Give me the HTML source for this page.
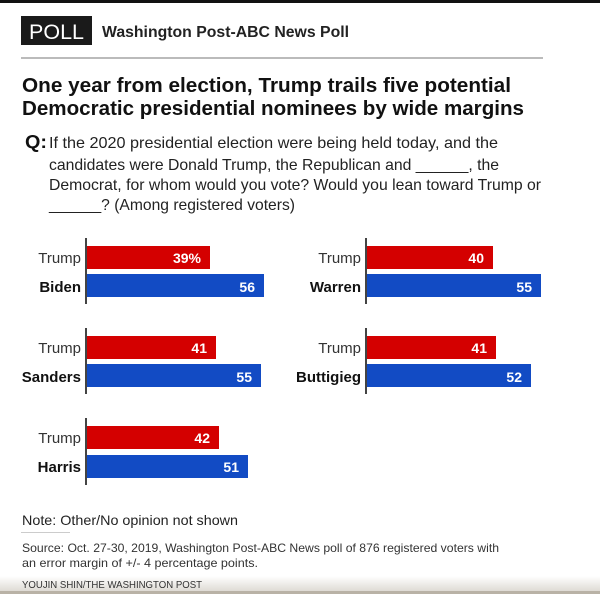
<!DOCTYPE html>
<html><head><meta charset="utf-8"><style>
html,body{margin:0;padding:0;background:#fff;}
svg{display:block;font-family:"Liberation Sans",Arial,sans-serif;}
</style></head><body>
<svg width="600" height="594" viewBox="0 0 600 594" xmlns="http://www.w3.org/2000/svg">
<defs><linearGradient id="bg" x1="0" y1="0" x2="0" y2="1"><stop offset="0" stop-color="#fff"/><stop offset="1" stop-color="#d8d4cc"/></linearGradient></defs>
<rect x="0" y="0" width="600" height="594" fill="#fff"/>
<rect x="0" y="0" width="600" height="3" fill="#111"/>
<rect x="0" y="576" width="600" height="18" fill="url(#bg)"/>
<rect x="0" y="591" width="600" height="3" fill="#b9b2a6"/>
<!-- header -->
<rect x="21" y="16" width="71" height="29" fill="#1a1a1a"/>
<text x="29" y="39" font-size="21" fill="#fff" textLength="55" lengthAdjust="spacingAndGlyphs">POLL</text>
<text x="102" y="37" font-size="16" font-weight="bold" fill="#222" textLength="247" lengthAdjust="spacingAndGlyphs">Washington Post-ABC News Poll</text>
<rect x="21" y="57" width="522" height="2" fill="#bbb"/>
<!-- title -->
<text x="22" y="92" font-size="20" font-weight="bold" fill="#111" textLength="489" lengthAdjust="spacingAndGlyphs">One year from election, Trump trails five potential</text>
<text x="22" y="115" font-size="20" font-weight="bold" fill="#111" textLength="502" lengthAdjust="spacingAndGlyphs">Democratic presidential nominees by wide margins</text>
<!-- question -->
<text x="25" y="148" font-size="18" font-weight="bold" fill="#111" textLength="22" lengthAdjust="spacingAndGlyphs">Q:</text>
<g font-size="16" fill="#222">
<text x="49" y="148" textLength="449" lengthAdjust="spacingAndGlyphs">If the 2020 presidential election were being held today, and the</text>
<text x="49" y="170" textLength="450" lengthAdjust="spacingAndGlyphs">candidates were Donald Trump, the Republican and ______, the</text>
<text x="49" y="190" textLength="492" lengthAdjust="spacingAndGlyphs">Democrat, for whom would you vote? Would you lean toward Trump or</text>
<text x="49" y="210" textLength="246" lengthAdjust="spacingAndGlyphs">______? (Among registered voters)</text>
</g>
<!-- bars -->
<g font-size="15">
<!-- row 1 left -->
<rect x="86" y="246" width="124" height="23" fill="#d40000"/>
<rect x="86" y="274" width="178" height="23" fill="#124bc4"/>
<rect x="85" y="238" width="2" height="66" fill="#444"/>
<text x="81" y="263" text-anchor="end" fill="#333">Trump</text>
<text x="81" y="292" text-anchor="end" font-weight="bold" fill="#111">Biden</text>
<text x="201" y="263" text-anchor="end" font-weight="bold" font-size="14" fill="#fff">39%</text>
<text x="255" y="292" text-anchor="end" font-weight="bold" font-size="14" fill="#fff">56</text>
<!-- row 1 right -->
<rect x="366" y="246" width="127" height="23" fill="#d40000"/>
<rect x="366" y="274" width="175" height="23" fill="#124bc4"/>
<rect x="365" y="238" width="2" height="66" fill="#444"/>
<text x="361" y="263" text-anchor="end" fill="#333">Trump</text>
<text x="361" y="292" text-anchor="end" font-weight="bold" fill="#111">Warren</text>
<text x="484" y="263" text-anchor="end" font-weight="bold" font-size="14" fill="#fff">40</text>
<text x="532" y="292" text-anchor="end" font-weight="bold" font-size="14" fill="#fff">55</text>
<!-- row 2 left -->
<rect x="86" y="336" width="130" height="23" fill="#d40000"/>
<rect x="86" y="364" width="175" height="23" fill="#124bc4"/>
<rect x="85" y="328" width="2" height="66" fill="#444"/>
<text x="81" y="353" text-anchor="end" fill="#333">Trump</text>
<text x="81" y="382" text-anchor="end" font-weight="bold" fill="#111">Sanders</text>
<text x="207" y="353" text-anchor="end" font-weight="bold" font-size="14" fill="#fff">41</text>
<text x="252" y="382" text-anchor="end" font-weight="bold" font-size="14" fill="#fff">55</text>
<!-- row 2 right -->
<rect x="366" y="336" width="130" height="23" fill="#d40000"/>
<rect x="366" y="364" width="165" height="23" fill="#124bc4"/>
<rect x="365" y="328" width="2" height="66" fill="#444"/>
<text x="361" y="353" text-anchor="end" fill="#333">Trump</text>
<text x="361" y="382" text-anchor="end" font-weight="bold" fill="#111">Buttigieg</text>
<text x="487" y="353" text-anchor="end" font-weight="bold" font-size="14" fill="#fff">41</text>
<text x="522" y="382" text-anchor="end" font-weight="bold" font-size="14" fill="#fff">52</text>
<!-- row 3 left -->
<rect x="86" y="426" width="133" height="23" fill="#d40000"/>
<rect x="86" y="455" width="162" height="23" fill="#124bc4"/>
<rect x="85" y="418" width="2" height="67" fill="#444"/>
<text x="81" y="443" text-anchor="end" fill="#333">Trump</text>
<text x="81" y="472" text-anchor="end" font-weight="bold" fill="#111">Harris</text>
<text x="210" y="443" text-anchor="end" font-weight="bold" font-size="14" fill="#fff">42</text>
<text x="239" y="472" text-anchor="end" font-weight="bold" font-size="14" fill="#fff">51</text>
</g>
<!-- notes -->
<text x="22" y="525" font-size="14" fill="#222" textLength="216" lengthAdjust="spacingAndGlyphs">Note: Other/No opinion not shown</text>
<rect x="21" y="532" width="49" height="1" fill="#ccc"/>
<text x="22" y="552" font-size="12" fill="#333" textLength="477" lengthAdjust="spacingAndGlyphs">Source: Oct. 27-30, 2019, Washington Post-ABC News poll of 876 registered voters with</text>
<text x="22" y="567" font-size="12" fill="#333" textLength="236" lengthAdjust="spacingAndGlyphs">an error margin of +/- 4 percentage points.</text>
<text x="22" y="588" font-size="10.5" fill="#333" textLength="180" lengthAdjust="spacingAndGlyphs">YOUJIN SHIN/THE WASHINGTON POST</text>
</svg>
</body></html>
